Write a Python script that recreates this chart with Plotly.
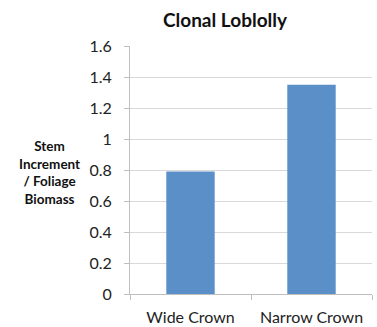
import plotly.graph_objects as go

categories = ["Wide Crown", "Narrow Crown"]
values = [0.79, 1.35]
y_ticks = [0, 0.2, 0.4, 0.6, 0.8, 1, 1.2, 1.4, 1.6]
y_tick_labels = ["0", "0.2", "0.4", "0.6", "0.8", "1", "1.2", "1.4", "1.6"]

fig = go.Figure(
    go.Bar(x=categories, y=values, marker=dict(color="#5B8FC8", line=dict(width=0)))
)

fig.update_layout(
    width=377,
    height=327,
    margin=dict(l=130, r=5, t=46, b=33),
    paper_bgcolor="white",
    plot_bgcolor="white",
    bargap=0.6,
    showlegend=False,
    font=dict(family="Lato, Open Sans, sans-serif", color="#222"),
    title=dict(
        text="<b>Clonal Loblolly</b>",
        x=225 / 377,
        xanchor="center",
        y=1 - 20 / 327,
        yanchor="middle",
        font=dict(size=19, color="#111"),
    ),
)

fig.update_yaxes(
    range=[0, 1.6],
    tickvals=y_ticks,
    ticktext=y_tick_labels,
    automargin=False,
    showgrid=True,
    gridcolor="#D9D9D9",
    gridwidth=1,
    zeroline=False,
    showline=True,
    linecolor="#BFBFBF",
    ticks="outside",
    ticklen=5,
    tickcolor="#BFBFBF",
    ticklabelstandoff=9,
    tickfont=dict(size=16, color="#222"),
)

fig.update_xaxes(
    automargin=False,
    showline=True,
    linecolor="#BFBFBF",
    ticks="outside",
    tickson="boundaries",
    ticklen=5,
    tickcolor="#BFBFBF",
    ticklabelstandoff=9,
    tickfont=dict(size=16, color="#222"),
)

fig.add_annotation(
    text="<b>Stem<br>Increment<br>/ Foliage<br>Biomass</b>",
    xref="paper",
    yref="paper",
    x=-81 / 242,
    y=(294 - 172) / 248,
    xanchor="center",
    yanchor="middle",
    showarrow=False,
    align="center",
    font=dict(size=13.5, color="#111"),
)

fig.write_html("out.html")
